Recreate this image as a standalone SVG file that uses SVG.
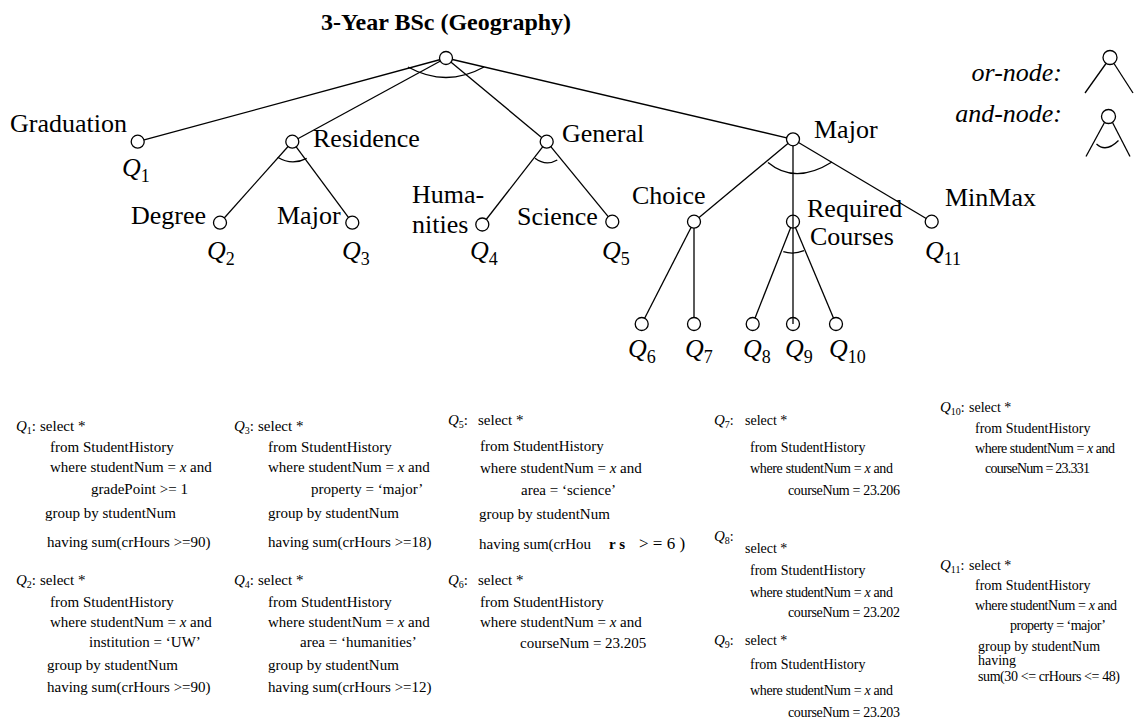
<svg xmlns="http://www.w3.org/2000/svg" width="1136" height="725" viewBox="0 0 1136 725">
<style>
.bg{fill:#ffffff}
.edge{stroke:#000;stroke-width:1.3;fill:none}
.node{fill:#fff;stroke:#000;stroke-width:1.3}
.lbl{font-family:"Liberation Serif","Times New Roman",serif;font-size:26px;fill:#000}
.ql{font-family:"Liberation Serif","Times New Roman",serif;font-size:26px;font-style:italic;fill:#000}
.sub{font-style:normal;font-size:18px}
.title{font-family:"Liberation Serif","Times New Roman",serif;font-size:24px;font-weight:bold;fill:#000}
.leg{font-family:"Liberation Serif","Times New Roman",serif;font-size:26px;font-style:italic;fill:#000}
.sql{font-family:"Liberation Serif","Times New Roman",serif;font-size:15px;fill:#000}
.sqlr{font-family:"Liberation Serif","Times New Roman",serif;font-size:14px;fill:#000}
.qi{font-style:italic}
.qs{font-size:10px;font-style:normal}
</style>
<rect class="bg" x="0" y="0" width="1136" height="725"/>
<text class="title" x="446" y="30" text-anchor="middle">3-Year BSc (Geography)</text>

<g id="connectors">
<line class="edge" x1="446" y1="58" x2="137.7" y2="141.7"/>
<line class="edge" x1="446" y1="58" x2="292.3" y2="141.7"/>
<line class="edge" x1="446" y1="58" x2="546.7" y2="141.7"/>
<line class="edge" x1="446" y1="58" x2="793" y2="139.3"/>
<path class="edge" d="M408,67 Q446,88 484,67"/>
<line class="edge" x1="292.3" y1="141.7" x2="220" y2="222.7"/>
<line class="edge" x1="292.3" y1="141.7" x2="352.3" y2="222.7"/>
<path class="edge" d="M277.7,157.3 Q292,166 306.7,158.3"/>
<line class="edge" x1="546.7" y1="141.7" x2="482.3" y2="224.5"/>
<line class="edge" x1="546.7" y1="141.7" x2="612.3" y2="221.7"/>
<path class="edge" d="M535,158.3 Q546,166.5 557.3,160"/>
<line class="edge" x1="793" y1="139.3" x2="694" y2="221.7"/>
<line class="edge" x1="793" y1="139.3" x2="931.7" y2="221.7"/>
<path class="edge" d="M768,162.5 Q795,185 832,162"/>
<line class="edge" x1="694" y1="221.7" x2="641.7" y2="324"/>
<line class="edge" x1="694" y1="221.7" x2="694" y2="324"/>
<line class="edge" x1="793" y1="221.7" x2="752.7" y2="324"/>
<line class="edge" x1="793" y1="221.7" x2="836" y2="324"/>
<path class="edge" d="M783.3,251.7 Q793.5,255 804,250.7"/>
</g>

<g id="n-root"><circle class="node" cx="446" cy="58" r="6.5"/></g>
<g id="n-graduation"><circle class="node" cx="137.7" cy="141.7" r="6.5"/>
<text class="lbl" x="10" y="131.7">Graduation</text>
<text class="ql" x="122" y="176">Q<tspan class="sub" dy="6">1</tspan></text></g>
<g id="n-residence"><circle class="node" cx="292.3" cy="141.7" r="6.5"/>
<text class="lbl" x="313" y="147">Residence</text></g>
<g id="n-general"><circle class="node" cx="546.7" cy="141.7" r="6.5"/>
<text class="lbl" x="562" y="142">General</text></g>
<g id="n-major"><circle class="node" cx="793" cy="139.3" r="6.5"/>
<text class="lbl" x="814" y="137.5">Major</text></g>
<g id="n-degree"><circle class="node" cx="220" cy="222.7" r="6.5"/>
<text class="lbl" x="131" y="223.5">Degree</text>
<text class="ql" x="207" y="259">Q<tspan class="sub" dy="6">2</tspan></text></g>
<g id="n-resmajor"><circle class="node" cx="352.3" cy="222.7" r="6.5"/>
<text class="lbl" x="277" y="223.5">Major</text>
<text class="ql" x="342" y="259">Q<tspan class="sub" dy="6">3</tspan></text></g>
<g id="n-humanities"><circle class="node" cx="482.3" cy="224.5" r="6.5"/>
<text class="lbl" x="412" y="203">Huma-</text>
<text class="lbl" x="412" y="233">nities</text>
<text class="ql" x="470" y="259">Q<tspan class="sub" dy="6">4</tspan></text></g>
<g id="n-science"><circle class="node" cx="612.3" cy="221.7" r="6.5"/>
<text class="lbl" x="517" y="225">Science</text>
<text class="ql" x="602" y="259">Q<tspan class="sub" dy="6">5</tspan></text></g>
<g id="n-choice"><circle class="node" cx="694" cy="221.7" r="6.5"/>
<text class="lbl" x="632" y="203.5">Choice</text></g>
<g id="n-required"><circle class="node" cx="793" cy="221.7" r="6.5"/>
<text class="lbl" x="807" y="216.5" font-size="25">Required</text>
<text class="lbl" x="810" y="244.5" font-size="25">Courses</text></g>
<g id="n-minmax"><circle class="node" cx="931.7" cy="221.7" r="6.5"/>
<text class="lbl" x="945" y="206">MinMax</text>
<text class="ql" x="925" y="259">Q<tspan class="sub" dy="6">11</tspan></text></g>
<g id="n-q6"><circle class="node" cx="641.7" cy="324" r="6.5"/>
<text class="ql" x="628" y="357">Q<tspan class="sub" dy="6">6</tspan></text></g>
<g id="n-q7"><circle class="node" cx="694" cy="324" r="6.5"/>
<text class="ql" x="685" y="357">Q<tspan class="sub" dy="6">7</tspan></text></g>
<g id="n-q8"><circle class="node" cx="752.7" cy="324" r="6.5"/>
<text class="ql" x="743" y="357">Q<tspan class="sub" dy="6">8</tspan></text></g>
<g id="n-q9"><circle class="node" cx="793" cy="324" r="6.5"/>
<text class="ql" x="785" y="357">Q<tspan class="sub" dy="6">9</tspan></text></g>
<g id="n-q10"><circle class="node" cx="836" cy="324" r="6.5"/>
<text class="ql" x="829" y="357">Q<tspan class="sub" dy="6">10</tspan></text></g>
<g id="spine"><line class="edge" x1="793" y1="145.8" x2="793" y2="324"/></g>

<g id="legend">
<text class="leg" x="1062" y="81" text-anchor="end">or-node:</text>
<circle class="node" cx="1110" cy="57.5" r="7"/>
<line class="edge" x1="1106" y1="63.5" x2="1085" y2="93"/>
<line class="edge" x1="1114" y1="63.5" x2="1133" y2="93"/>
<text class="leg" x="1062" y="122" text-anchor="end">and-node:</text>
<circle class="node" cx="1108.5" cy="116.5" r="7"/>
<line class="edge" x1="1104.5" y1="122.5" x2="1086" y2="156.5"/>
<line class="edge" x1="1112.5" y1="122.5" x2="1130" y2="156.5"/>
<path class="edge" d="M1096.5,144 Q1106,153 1118.5,140.5"/>
</g>

<g id="query-q1" class="sql">
<text x="16" y="431"><tspan class="qi">Q</tspan><tspan class="qs" dy="3">1</tspan><tspan dy="-3">:</tspan><tspan x="40">select *</tspan></text>
<text x="50" y="452">from StudentHistory</text>
<text x="50" y="472">where studentNum = <tspan class="qi">x</tspan> and</text>
<text x="91" y="494">gradePoint &gt;= 1</text>
<text x="45" y="518">group by studentNum</text>
<text x="47" y="547">having sum(crHours &gt;=90)</text>
</g>
<g id="query-q2" class="sql">
<text x="16" y="585"><tspan class="qi">Q</tspan><tspan class="qs" dy="3">2</tspan><tspan dy="-3">:</tspan><tspan x="40">select *</tspan></text>
<text x="50" y="607">from StudentHistory</text>
<text x="50" y="627">where studentNum = <tspan class="qi">x</tspan> and</text>
<text x="89" y="647">institution = ‘UW’</text>
<text x="47" y="670">group by studentNum</text>
<text x="47" y="692">having sum(crHours &gt;=90)</text>
</g>
<g id="query-q3" class="sql">
<text x="234" y="431"><tspan class="qi">Q</tspan><tspan class="qs" dy="3">3</tspan><tspan dy="-3">:</tspan><tspan x="258">select *</tspan></text>
<text x="268" y="452">from StudentHistory</text>
<text x="268" y="472">where studentNum = <tspan class="qi">x</tspan> and</text>
<text x="311" y="494">property = ‘major’</text>
<text x="268" y="518">group by studentNum</text>
<text x="268" y="547">having sum(crHours &gt;=18)</text>
</g>
<g id="query-q4" class="sql">
<text x="234" y="585"><tspan class="qi">Q</tspan><tspan class="qs" dy="3">4</tspan><tspan dy="-3">:</tspan><tspan x="258">select *</tspan></text>
<text x="268" y="607">from StudentHistory</text>
<text x="268" y="627">where studentNum = <tspan class="qi">x</tspan> and</text>
<text x="300" y="647">area = ‘humanities’</text>
<text x="268" y="670">group by studentNum</text>
<text x="268" y="692">having sum(crHours &gt;=12)</text>
</g>
<g id="query-q5" class="sql">
<text x="448" y="425"><tspan class="qi">Q</tspan><tspan class="qs" dy="3">5</tspan><tspan dy="-3">:</tspan><tspan x="478">select *</tspan></text>
<text x="480" y="451">from StudentHistory</text>
<text x="480" y="473">where studentNum = <tspan class="qi">x</tspan> and</text>
<text x="521" y="495">area = ‘science’</text>
<text x="479" y="519">group by studentNum</text>
<text x="479" y="549">having sum(crHou<tspan x="609" font-weight="bold">r s</tspan><tspan x="639" font-size="17">&gt; = 6 )</tspan></text>
</g>
<g id="query-q6" class="sql">
<text x="448" y="585"><tspan class="qi">Q</tspan><tspan class="qs" dy="3">6</tspan><tspan dy="-3">:</tspan><tspan x="478">select *</tspan></text>
<text x="480" y="607">from StudentHistory</text>
<text x="480" y="627">where studentNum = <tspan class="qi">x</tspan> and</text>
<text x="520" y="648">courseNum = 23.205</text>
</g>
<g id="query-q7" class="sqlr">
<text x="714" y="425"><tspan class="qi" font-size="15">Q</tspan><tspan class="qs" dy="3">7</tspan><tspan dy="-3">:</tspan><tspan x="745">select *</tspan></text>
<text x="750" y="452">from StudentHistory</text>
<text x="750" y="473" textLength="143">where studentNum = <tspan class="qi">x</tspan> and</text>
<text x="788" y="495" textLength="112">courseNum = 23.206</text>
</g>
<g id="query-q8" class="sqlr">
<text x="714" y="541"><tspan class="qi" font-size="15">Q</tspan><tspan class="qs" dy="3">8</tspan><tspan dy="-3">:</tspan></text>
<text x="745" y="553">select *</text>
<text x="750" y="575">from StudentHistory</text>
<text x="750" y="597" textLength="143">where studentNum = <tspan class="qi">x</tspan> and</text>
<text x="788" y="617" textLength="112">courseNum = 23.202</text>
</g>
<g id="query-q9" class="sqlr">
<text x="714" y="645"><tspan class="qi" font-size="15">Q</tspan><tspan class="qs" dy="3">9</tspan><tspan dy="-3">:</tspan><tspan x="745">select *</tspan></text>
<text x="750" y="669">from StudentHistory</text>
<text x="750" y="695" textLength="143">where studentNum = <tspan class="qi">x</tspan> and</text>
<text x="788" y="717" textLength="112">courseNum = 23.203</text>
</g>
<g id="query-q10" class="sqlr">
<text x="940" y="412"><tspan class="qi" font-size="15">Q</tspan><tspan class="qs" dy="3">10</tspan><tspan dy="-3">:</tspan><tspan x="969">select *</tspan></text>
<text x="975" y="433">from StudentHistory</text>
<text x="975" y="453" textLength="140">where studentNum = <tspan class="qi">x</tspan> and</text>
<text x="985" y="473" textLength="105">courseNum = 23.331</text>
</g>
<g id="query-q11" class="sqlr">
<text x="940" y="570"><tspan class="qi" font-size="15">Q</tspan><tspan class="qs" dy="3">11</tspan><tspan dy="-3">:</tspan><tspan x="969">select *</tspan></text>
<text x="975" y="590">from StudentHistory</text>
<text x="975" y="610" textLength="142">where studentNum = <tspan class="qi">x</tspan> and</text>
<text x="1010" y="630" textLength="96">property = ‘major’</text>
<text x="978" y="651">group by studentNum</text>
<text x="978" y="665">having</text>
<text x="978" y="681" textLength="142">sum(30 &lt;= crHours &lt;= 48)</text>
</g>
</svg>
